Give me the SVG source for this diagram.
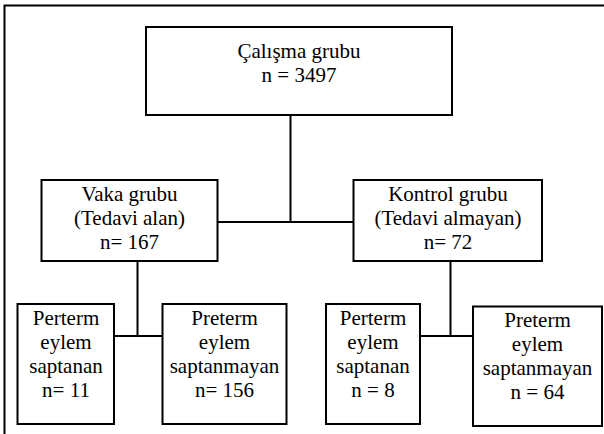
<svg xmlns="http://www.w3.org/2000/svg" width="604" height="434" viewBox="0 0 604 434" font-family="'Liberation Serif', 'DejaVu Serif', serif" font-size="21">
<style>
.box{fill:#fff;stroke:#000;stroke-width:2}
.ln{stroke:#000;stroke-width:2;fill:none}
.t{font-family:'Liberation Serif','DejaVu Serif',serif;font-size:21px;fill:#000;text-anchor:middle}
</style>
<rect width="604" height="434" fill="#fff"/>
<g id="frame">
<path class="ln" d="M4.5,434 V5.5 H604"/>
</g>
<g id="connectors">
<path class="ln" d="M290.5,115 V222"/>
<path class="ln" d="M217.5,222 H353.5"/>
<path class="ln" d="M137.5,261 V336"/>
<path class="ln" d="M112,336 H162.5"/>
<path class="ln" d="M450.5,261 V336"/>
<path class="ln" d="M420,336 H473"/>
</g>
<g id="root">
<rect class="box" x="146" y="27" width="306" height="88"/>
<text class="t" x="299" y="57.5">Çalışma grubu</text>
<text class="t" x="299" y="81.5">n = 3497</text>
</g>
<g id="vaka">
<rect class="box" x="41.5" y="180" width="176" height="81"/>
<text class="t" x="129.5" y="201">Vaka grubu</text>
<text class="t" x="129.5" y="225">(Tedavi alan)</text>
<text class="t" x="129.5" y="249">n= 167</text>
</g>
<g id="kontrol">
<rect class="box" x="353.5" y="180" width="188.5" height="81"/>
<text class="t" x="448" y="201">Kontrol grubu</text>
<text class="t" x="448" y="225">(Tedavi almayan)</text>
<text class="t" x="448" y="249">n= 72</text>
</g>
<g id="vaka-saptanan">
<rect class="box" x="17.5" y="304" width="96.5" height="120"/>
<text class="t" x="66" y="325">Perterm</text>
<text class="t" x="66" y="349">eylem</text>
<text class="t" x="66" y="373">saptanan</text>
<text class="t" x="66" y="397">n= 11</text>
</g>
<g id="vaka-saptanmayan">
<rect class="box" x="162.5" y="304" width="124" height="120"/>
<text class="t" x="224.5" y="325">Preterm</text>
<text class="t" x="224.5" y="349">eylem</text>
<text class="t" x="224.5" y="373">saptanmayan</text>
<text class="t" x="224.5" y="397">n= 156</text>
</g>
<g id="kontrol-saptanan">
<rect class="box" x="326" y="304" width="94" height="120"/>
<text class="t" x="373" y="325">Perterm</text>
<text class="t" x="373" y="349">eylem</text>
<text class="t" x="373" y="373">saptanan</text>
<text class="t" x="373" y="397">n = 8</text>
</g>
<g id="kontrol-saptanmayan">
<rect class="box" x="473" y="306.5" width="129" height="119.5"/>
<text class="t" x="537.5" y="327">Preterm</text>
<text class="t" x="537.5" y="351">eylem</text>
<text class="t" x="537.5" y="375">saptanmayan</text>
<text class="t" x="537.5" y="399">n = 64</text>
</g>
</svg>
